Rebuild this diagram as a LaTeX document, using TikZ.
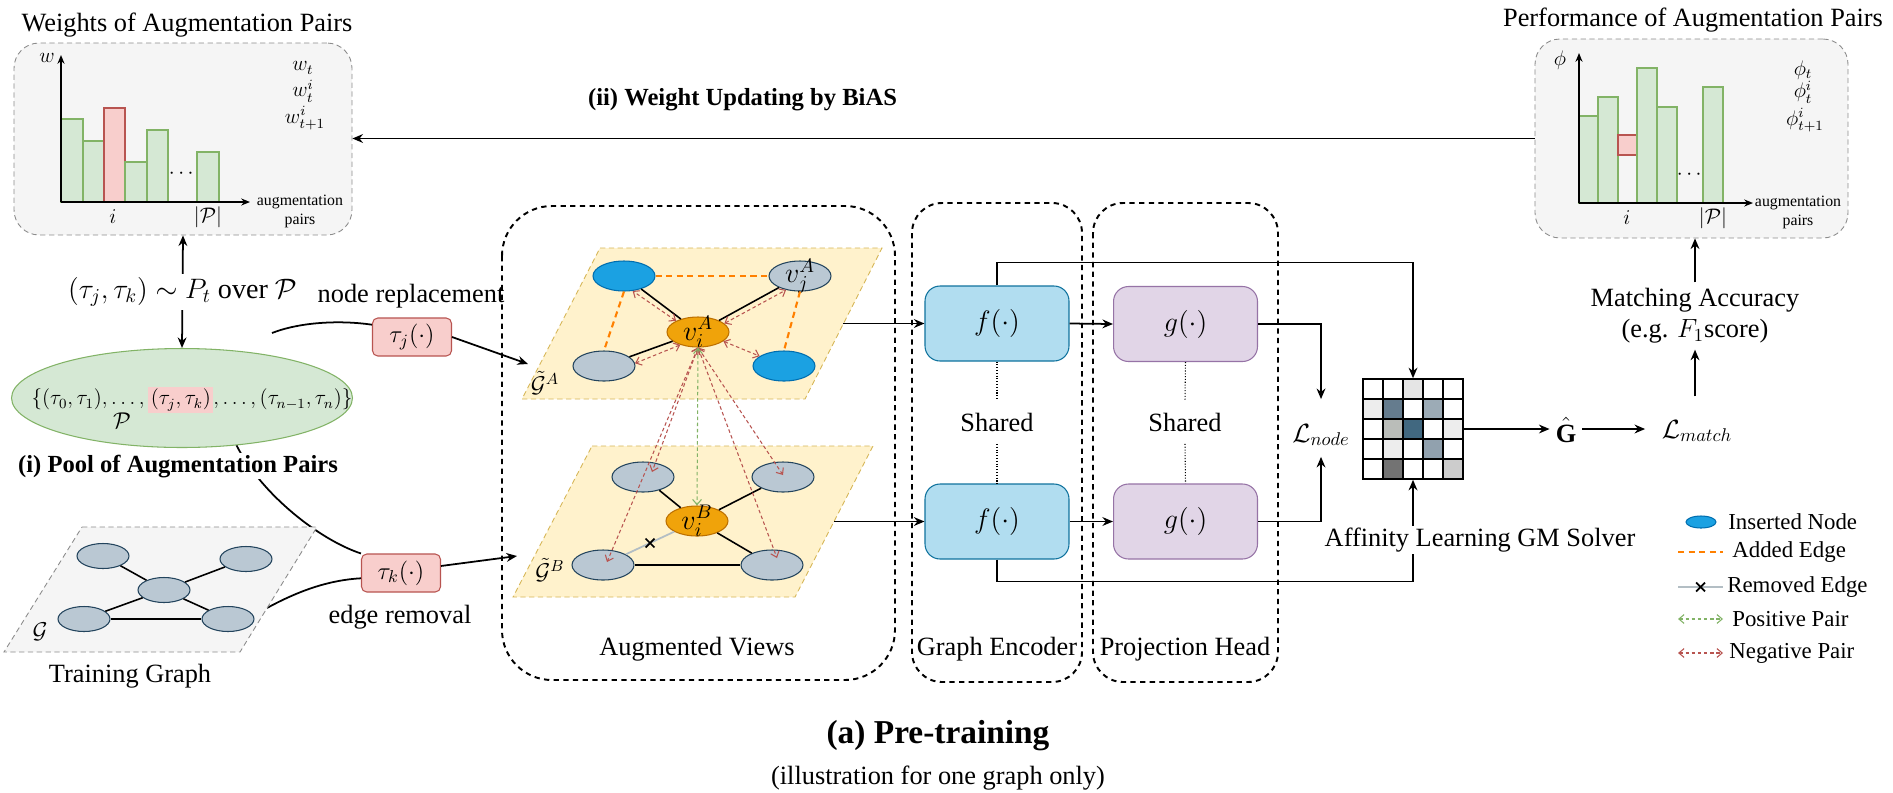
\RequirePackage{fix-cm}
\documentclass[tikz,border=0pt]{standalone}
\usepackage{amsmath,amssymb}
\usepackage{fontspec}
\setmainfont{Liberation Serif}
\usepackage{tikz}
\usetikzlibrary{arrows.meta}
\usetikzlibrary{shapes.geometric}
\usetikzlibrary{shapes.misc}
\definecolor{panelfill}{HTML}{F5F5F5}
\definecolor{panelline}{HTML}{8C8C8C}
\definecolor{barfill}{HTML}{D5E8D4}
\definecolor{barline}{HTML}{82B366}
\definecolor{redfill}{HTML}{F8CECC}
\definecolor{redline}{HTML}{B85450}
\definecolor{planefill}{HTML}{FFF2CC}
\definecolor{planeline}{HTML}{D6B656}
\definecolor{insfill}{HTML}{1BA1E2}
\definecolor{insline}{HTML}{006EAF}
\definecolor{nodefill}{HTML}{BAC8D3}
\definecolor{nodeline}{HTML}{23445D}
\definecolor{ancfill}{HTML}{F0A30A}
\definecolor{ancline}{HTML}{BD7000}
\definecolor{ffill}{HTML}{B1DDF0}
\definecolor{fline}{HTML}{10739E}
\definecolor{gfill}{HTML}{E1D5E7}
\definecolor{gline}{HTML}{9673A6}
\definecolor{addcol}{HTML}{FF8000}
\definecolor{remcol}{HTML}{B3BEC4}
\setlength{\fboxsep}{1.5pt}

\begin{document}
\begin{tikzpicture}[x=0.02cm, y=-0.02cm,
  >={Stealth[length=6pt,width=5pt]},
  txt/.style={font=\fontsize{15}{18}\selectfont},
  legtxt/.style={font=\fontsize{13}{15}\selectfont, inner sep=0pt},
  boldtxt/.style={font=\fontsize{14}{16}\selectfont\bfseries, inner sep=0pt},
  smalltxt/.style={font=\fontsize{9}{10}\selectfont, inner sep=0pt},
  mth/.style={font=\fontsize{12}{14}\selectfont, inner sep=0pt},
  mthm/.style={font=\fontsize{13}{15}\selectfont},
  mthl/.style={font=\fontsize{15}{18}\selectfont},
  vlabel/.style={font=\fontsize{16}{18}\selectfont, inner sep=0pt},
  panel/.style={draw=panelline, fill=panelfill, densely dashed, line width=0.5pt, rounded corners=0.5cm},
  gbar/.style={fill=barfill, draw=barline, line width=0.6pt},
  rbar/.style={fill=redfill, draw=redline, line width=0.6pt},
  axis/.style={line width=0.8pt, -{Stealth[length=5pt,width=4pt]}},
  conn/.style={line width=1pt},
  group/.style={draw=black, line width=1.1pt, dash pattern=on 3pt off 2.5pt, rounded corners=0.6cm},
  vplane/.style={fill=planefill, draw=planeline, densely dashed, line width=0.5pt},
  tgplane/.style={fill=panelfill, draw=panelline, densely dashed, line width=0.5pt},
  vnode/.style={ellipse, minimum width=1.24cm, minimum height=0.6cm, inner sep=0pt, line width=0.6pt},
  gnode/.style={vnode, fill=nodefill, draw=nodeline},
  insnode/.style={vnode, fill=insfill, draw=insline},
  ancnode/.style={vnode, fill=ancfill, draw=ancline},
  tgnode/.style={gnode, minimum width=1.04cm, minimum height=0.5cm},
  gedge/.style={line width=0.9pt},
  addedge/.style={draw=addcol, line width=1.2pt, dash pattern=on 3.5pt off 2.5pt},
  remedge/.style={draw=remcol, line width=1pt},
  negpair/.style={draw=redline, line width=0.6pt, dash pattern=on 2pt off 1.5pt,
    {Straight Barb[length=3pt,width=5pt]}-{Straight Barb[length=3pt,width=5pt]}},
  pospair/.style={negpair, draw=barline},
  augbox/.style={draw=redline, fill=redfill, rounded corners=3pt, minimum width=1.58cm, minimum height=0.76cm, line width=0.6pt, font=\fontsize{14}{16}\selectfont},
  fbox/.style={draw=fline, fill=ffill, rounded corners=0.3cm, minimum width=2.88cm, minimum height=1.5cm, line width=0.6pt, font=\fontsize{16}{18}\selectfont},
  gbox/.style={fbox, draw=gline, fill=gfill},
  shareline/.style={densely dotted, line width=0.6pt}]

\fill[white] (0,0) rectangle (1893,792);
\useasboundingbox (0,0) rectangle (1893,792);

\draw (183,139) node[panel, minimum width=6.76cm, minimum height=3.84cm] (wbox) {};
\draw (187,31) node[txt, anchor=base] (wtitle) {Weights of Augmentation Pairs};
\draw[gbar] (61,119) rectangle (83,202);
\draw[gbar] (83,141) rectangle (104,202);
\draw[rbar] (104,108) rectangle (125,202);
\draw[gbar] (125,162) rectangle (147,202);
\draw[gbar] (147,130) rectangle (168,202);
\draw[gbar] (197,152) rectangle (219,202);
\draw[axis] (61,202) -- (61,55);
\draw[axis] (61,202) -- (250,202);
\draw (47,58) node[mth] {$w$};
\draw (183,174) node[mth] {$\cdots$};
\draw (303,68) node[mth] {$w_t$};
\draw (303,91) node[mth] {$w_t^i$};
\draw (305,118) node[mth] {$w_{t+1}^i$};
\draw (113,217) node[mth] {$i$};
\draw (208,217) node[mth] {$|\mathcal{P}|$};
\draw (300,202) node[smalltxt] {augmentation};
\draw (300,221) node[smalltxt] {pairs};

\draw (1691.5,138.5) node[panel, minimum width=6.26cm, minimum height=3.98cm] (perfbox) {};
\draw (1693,26) node[txt, anchor=base] (ptitle) {Performance of Augmentation Pairs};
\draw[gbar] (1579,116) rectangle (1598,203);
\draw[gbar] (1598,97) rectangle (1618,203);
\draw[rbar] (1618,135) rectangle (1637,155);
\draw[gbar] (1637,68) rectangle (1657,203);
\draw[gbar] (1657,107) rectangle (1677,203);
\draw[gbar] (1703,87) rectangle (1723,203);
\draw[axis] (1579,203) -- (1579,53);
\draw[axis] (1579,203) -- (1753,203);
\draw (1560,60) node[mth] {$\phi$};
\draw (1691,175) node[mth] {$\cdots$};
\draw (1803,70) node[mth] {$\phi_t$};
\draw (1803,92) node[mth] {$\phi_t^i$};
\draw (1805,120) node[mth] {$\phi_{t+1}^i$};
\draw (1627,218) node[mth] {$i$};
\draw (1713,218) node[mth] {$|\mathcal{P}|$};
\draw (1798,203) node[smalltxt] {augmentation};
\draw (1798,222) node[smalltxt] {pairs};

\draw[conn,->] (perfbox.west) -- (perfbox.west -| wbox.east)
  node[pos=0.67, above=15pt, boldtxt] {(ii) Weight Updating by BiAS};

\draw (182,398) node[ellipse, draw=barline, fill=barfill, line width=0.6pt, minimum width=6.82cm, minimum height=1.98cm] (pool) {};
\draw (192,400) node[font=\fontsize{12}{14}\selectfont] (poolset) {$\{(\tau_0,\tau_1),\dots,\colorbox{redfill}{$(\tau_j,\tau_k)$},\dots,(\tau_{n-1},\tau_n)\}$};
\draw (122,421) node[mthm, inner sep=0pt] {$\mathcal{P}$};
\draw[conn,<->] (wbox.south) -- node[fill=white, font=\fontsize{16}{18}\selectfont, inner sep=2pt] {$(\tau_j,\tau_k)\sim P_t$ over $\mathcal{P}$} (pool.north);

\draw (412,337) node[augbox] (tj) {$\tau_j(\cdot)$};
\draw (411,302) node[txt, anchor=base] {node replacement};
\draw (401,573) node[augbox] (tk) {$\tau_k(\cdot)$};
\draw (400,623) node[txt, anchor=base] {edge removal};
\coordinate (tjin) at (272,333);
\coordinate (gAin) at (528,364);
\coordinate (tgout) at (267,608);
\coordinate (gBin) at (517,556);
\draw[conn] (tjin) .. controls (300,322) and (340,320) .. ([yshift=7pt]tj.west);
\draw[conn,->] (tj.east) -- (gAin);
\draw[conn] (pool.-41) .. controls (262,495) and (320,540) .. (tk.north west);
\draw[conn] (tgout) .. controls (300,590) and (330,580) .. ([yshift=-3pt]tk.west);
\draw[conn,->] ([yshift=4pt]tk.east) -- (gBin);
\draw (178,472) node[boldtxt, anchor=base, fill=white, inner sep=1pt] {(i) Pool of Augmentation Pairs};

\draw[tgplane] (82,527) -- (317,527) -- (240,652) -- (4,652) -- cycle;
\draw (103,556) node[tgnode] (n1) {};
\draw (246,559) node[tgnode] (n2) {};
\draw (164,590) node[tgnode] (n3) {};
\draw (84,619) node[tgnode] (n4) {};
\draw (228,619) node[tgnode] (n5) {};
\draw[gedge] (n1) -- (n3);
\draw[gedge] (n2) -- (n3);
\draw[gedge] (n3) -- (n4);
\draw[gedge] (n3) -- (n5);
\draw[gedge] (n4) -- (n5);
\draw (40,632) node[mthm] {$\mathcal{G}$};
\draw (130,682) node[txt, anchor=base] {Training Graph};

\draw[group, rounded corners=1cm] (502,206) rectangle (895,680);
\draw (697,655) node[txt, anchor=base] {Augmented Views};
\draw[vplane] (600,248) -- (882,248) -- (805,399) -- (522,399) -- cycle;
\draw[vplane] (592,446) -- (873,446) -- (795,597) -- (513,597) -- cycle;
\draw (545,383) node[mthm] {$\tilde{\mathcal{G}}^A$};
\draw (550,570) node[mthm] {$\tilde{\mathcal{G}}^B$};

\draw (624,276) node[insnode] (a1) {};
\draw (800,276) node[gnode, label={[vlabel]center:$v_j^A$}] (a2) {};
\draw (698,332) node[ancnode, label={[vlabel]center:$v_i^A$}] (ai) {};
\draw (604,366) node[gnode] (a3) {};
\draw (784,366) node[insnode] (a4) {};
\draw[gedge] (a1) -- (ai);
\draw[gedge] (a2) -- (ai);
\draw[gedge] (a3) -- (ai);
\draw[addedge] (a1) -- (a2);
\draw[addedge] (a1.south) -- (a3.north);
\draw[addedge] (a2.south) -- (a4.north);
\draw[negpair] (ai.153) -- (a1.-60);
\draw[negpair] (ai.18) -- (a2.-135);
\draw[negpair] (ai.-144) -- (a3.5);
\draw[negpair] (ai.-20) -- (a4.158);

\draw (643,477) node[gnode] (b1) {};
\draw (783,477) node[gnode] (b2) {};
\draw (697,521) node[ancnode, label={[vlabel]center:$v_i^B$}] (bi) {};
\draw (603,565) node[gnode] (b3) {};
\draw (772,565) node[gnode] (b4) {};
\draw[gedge] (b1) -- (bi);
\draw[gedge] (b2) -- (bi);
\draw[gedge] (bi) -- (b4);
\draw[gedge] (b3) -- (b4);
\draw[remedge] (b3) -- node[cross out, draw=black, line width=1pt, minimum size=4pt, inner sep=0pt] {} (bi);
\draw[negpair] (ai.south) -- ([shift={(9,-5)}]b1.center);
\draw[negpair] (ai.south) -- ([shift={(0,-2)}]b2.center);
\draw[negpair] (ai.south) -- ([shift={(4,-3)}]b3.center);
\draw[negpair] (ai.south) -- ([shift={(5,-7)}]b4.center);
\draw[pospair] (ai.south) -- (bi.north);

\draw[group] (912,203) rectangle (1082,682);
\draw[group] (1093,203) rectangle (1278,682);
\draw (997,655) node[txt, anchor=base] {Graph Encoder};
\draw (1185,655) node[txt, anchor=base] {Projection Head};
\draw (997,323.5) node[fbox] (f1) {$f(\cdot)$};
\draw (1185.5,324) node[gbox] (g1) {$g(\cdot)$};
\draw (997,521.5) node[fbox] (f2) {$f(\cdot)$};
\draw (1185.5,521.5) node[gbox] (g2) {$g(\cdot)$};
\draw (997,422) node[txt, inner xsep=0pt, inner ysep=7pt] (sh1) {Shared};
\draw (1185,422) node[txt, inner xsep=0pt, inner ysep=7pt] (sh2) {Shared};
\draw[shareline] (f1.south) -- (sh1.north);
\draw[shareline] (sh1.south) -- (f2.north);
\draw[shareline] (g1.south) -- (sh2.north);
\draw[shareline] (sh2.south) -- (g2.north);
\coordinate (gAout) at (843,323.5);
\coordinate (gBout) at (834,521.5);
\draw[conn,->] (gAout) -- (f1.west);
\draw[conn,->] (gBout) -- (f2.west);
\draw[conn,->] (f1.east) -- (g1.west);
\draw[conn,->] (f2.east) -- (g2.west);

\draw (1321,435) node[mthl, inner sep=0pt] (lnode) {$\mathcal{L}_{node}$};
\draw[conn,->,shorten >=14pt] (g1.east) -| (lnode.north);
\draw[conn,->,shorten >=6pt] (g2.east) -| (lnode.south);

\fill[black!10] (1403,379) rectangle ++(20,20);
\fill[black!7] (1363,399) rectangle ++(20,20);
\fill[black!7] (1443,419) rectangle ++(20,20);
\fill[black!7] (1383,439) rectangle ++(20,20);
\fill[black!20] (1443,459) rectangle ++(20,20);
\fill[nodeline!70] (1383,399) rectangle ++(20,20);
\fill[nodeline!45] (1423,399) rectangle ++(20,20);
\fill[barline!20!black!30] (1383,419) rectangle ++(20,20);
\fill[fline!20!nodeline!85] (1403,419) rectangle ++(20,20);
\fill[nodeline!50] (1423,439) rectangle ++(20,20);
\fill[black!55] (1383,459) rectangle ++(20,20);
\draw (1413,429) node[draw, line width=0.9pt, minimum size=2cm, inner sep=0pt] (mat) {};
\draw[line width=0.9pt] (1383,379) -- (1383,479);
\draw[line width=0.9pt] (1403,379) -- (1403,479);
\draw[line width=0.9pt] (1423,379) -- (1423,479);
\draw[line width=0.9pt] (1443,379) -- (1443,479);
\draw[line width=0.9pt] (1363,399) -- (1463,399);
\draw[line width=0.9pt] (1363,419) -- (1463,419);
\draw[line width=0.9pt] (1363,439) -- (1463,439);
\draw[line width=0.9pt] (1363,459) -- (1463,459);
\draw[conn,->] (f1.north) -- ++(0,-23) -| (mat.north);
\draw[conn,->] (f2.south) -- ++(0,22) -| (mat.south);
\draw (1480,540) node[txt, fill=white, inner sep=1pt] (solver) {Affinity Learning GM Solver};

\draw (1566,430) node[mthl] (ghat) {$\hat{\mathbf{G}}$};
\draw (1697,431) node[mthl] (lmatch) {$\mathcal{L}_{match}$};
\draw (1695,316) node[txt, align=center, font=\fontsize{15}{17.6}\selectfont] (acc) {Matching Accuracy\\(e.g. $F_1$score)};
\draw[conn,->] (mat.east) -- (mat.east -| ghat.west);
\draw[conn,->,shorten >=6pt] (ghat.east |- mat.east) -- (mat.east -| lmatch.west);
\draw[conn,->,shorten <=10pt] (lmatch.north -| acc.south) -- (acc.south);
\draw[conn,->] (acc.north) -- (acc.north |- perfbox.south);

\draw (1701,522) node[insnode, minimum width=0.6cm, minimum height=0.24cm] (lg1) {};
\draw (1728,522) node[legtxt, anchor=west] {Inserted Node};
\coordinate (lg2a) at (1678,552);
\coordinate (lg2b) at (1723,552);
\draw[addedge] (lg2a) -- (lg2b);
\draw (1732,552) node[legtxt, anchor=west] {Added Edge};
\coordinate (lg3a) at (1678,587);
\coordinate (lg3b) at (1723,587);
\draw[remedge] (lg3a) -- node[pos=0.5, cross out, draw=black, line width=1pt, minimum size=4pt, inner sep=0pt] {} (lg3b);
\draw (1727,587) node[legtxt, anchor=west] {Removed Edge};
\coordinate (lg4a) at (1678,619);
\coordinate (lg4b) at (1723,619);
\draw[pospair] (lg4a) -- (lg4b);
\draw (1732,619) node[legtxt, anchor=west] {Positive Pair};
\coordinate (lg5a) at (1678,653);
\coordinate (lg5b) at (1723,653);
\draw[negpair] (lg5a) -- (lg5b);
\draw (1729,653) node[legtxt, anchor=west] {Negative Pair};

\draw (938,743) node[anchor=base, font=\fontsize{19}{22}\selectfont\bfseries] {(a) Pre-training};
\draw (938,784) node[anchor=base, txt] {(illustration for one graph only)};
\end{tikzpicture}
\end{document}
